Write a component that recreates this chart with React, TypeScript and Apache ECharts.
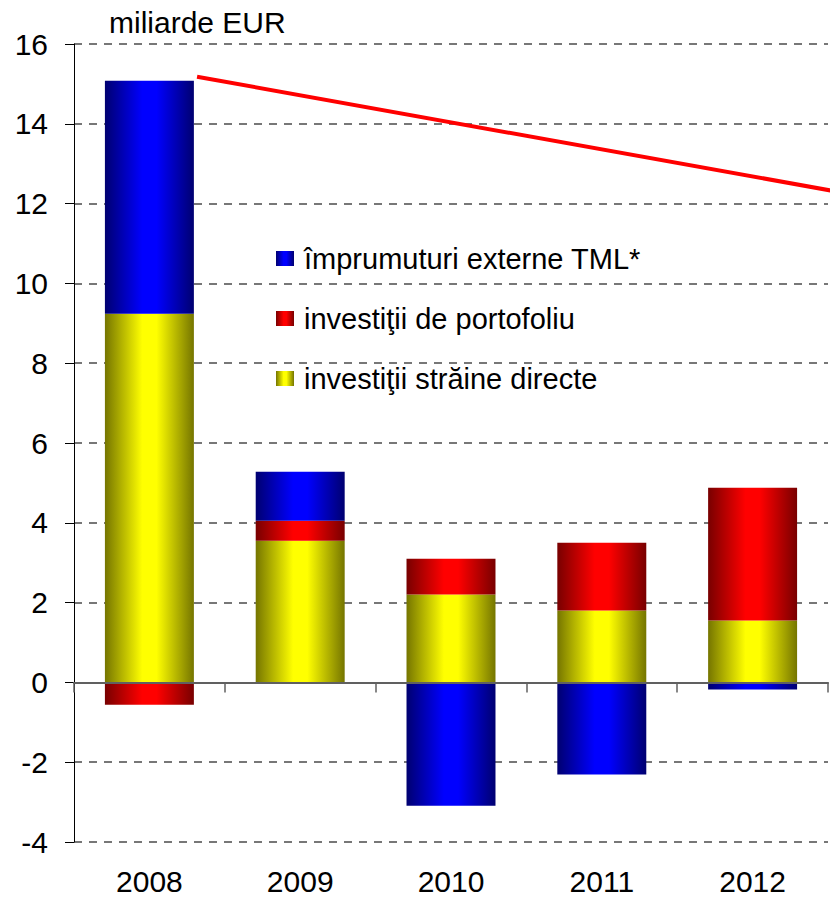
import React, { useEffect, useRef } from "react";
import * as echarts from "echarts";

const years = ["2008", "2009", "2010", "2011", "2012"];
const fdi = [9.24, 3.55, 2.2, 1.8, 1.55];
const portfolio = [-0.56, 0.5, 0.9, 1.7, 3.33];
const loans = [5.84, 1.23, -3.09, -2.31, -0.18];
const trendX = [0.316, 4.56];
const trendY = [15.18, 12.3];
const yMin = -4;
const yMax = 16;
const yStep = 2;
const unitLabel = "miliarde EUR";
const nameLoans = "împrumuturi externe TML*";
const namePortfolio = "investiţii de portofoliu";
const nameFdi = "investiţii străine directe";

const FONT = "'Liberation Sans', Arial, sans-serif";

const grad = (dark: string, bright: string) =>
  new echarts.graphic.LinearGradient(0, 0, 1, 0, [
    { offset: 0, color: dark },
    { offset: 0.42, color: bright },
    { offset: 0.58, color: bright },
    { offset: 1, color: dark },
  ]);

export default function App() {
  const ref = useRef<HTMLDivElement>(null);
  useEffect(() => {
    document.body.style.margin = "0";
    if (!ref.current) return;
    const chart = echarts.init(ref.current, undefined, { renderer: "svg" });
    chart.setOption({
      animation: false,
      backgroundColor: "#ffffff",
      title: {
        text: unitLabel,
        left: 104,
        top: 2,
        textStyle: { fontFamily: FONT, fontSize: 30, fontWeight: "normal", color: "#000" },
      },
      legend: {
        data: [nameLoans, namePortfolio, nameFdi],
        orient: "vertical",
        left: 271,
        top: 239,
        itemWidth: 18,
        itemHeight: 15,
        itemGap: 31,
        icon: "rect",
        textStyle: { fontFamily: FONT, fontSize: 29, color: "#000", padding: [0, 0, 0, 5] },
      },
      grid: { left: 74, right: 9, top: 44, bottom: 65, containLabel: false },
      xAxis: [
        {
          type: "category",
          data: years,
          position: "bottom",
          axisLine: { show: false, onZero: false },
          axisTick: { show: false },
          axisLabel: { fontFamily: FONT, fontSize: 30, color: "#000", margin: 24 },
          splitLine: { show: false },
        },
        {
          type: "category",
          data: years,
          position: "bottom",
          z: 10,
          axisLine: { show: true, onZero: true, lineStyle: { color: "#606060", width: 2 } },
          axisTick: { show: true, length: 10, lineStyle: { color: "#606060", width: 1.5 } },
          axisLabel: { show: false },
          splitLine: { show: false },
        },
        {
          type: "value",
          min: -0.5,
          max: 4.5,
          show: false,
          splitLine: { show: false },
        },
      ],
      yAxis: {
        type: "value",
        min: yMin,
        max: yMax,
        interval: yStep,
        axisLine: { show: true, onZero: false, lineStyle: { color: "#000", width: 1 } },
        axisTick: { show: true, length: 9, lineStyle: { color: "#000", width: 1 } },
        axisLabel: { fontFamily: FONT, fontSize: 30, color: "#000", margin: 26 },
        splitLine: { show: true, lineStyle: { color: "#777", width: 2, type: [8, 7] } },
      },
      series: [
        {
          name: nameFdi,
          type: "bar",
          stack: "total",
          xAxisIndex: 0,
          barWidth: "59%",
          data: fdi,
          itemStyle: { color: grad("#757500", "#ffff00") },
        },
        {
          name: namePortfolio,
          type: "bar",
          stack: "total",
          xAxisIndex: 0,
          barWidth: "59%",
          data: portfolio,
          itemStyle: { color: grad("#780000", "#ff0000") },
        },
        {
          name: nameLoans,
          type: "bar",
          stack: "total",
          xAxisIndex: 0,
          barWidth: "59%",
          data: loans,
          itemStyle: { color: grad("#000070", "#0000ff") },
        },
        {
          name: "trend",
          type: "line",
          xAxisIndex: 2,
          yAxisIndex: 0,
          clip: false,
          symbol: "none",
          z: 5,
          lineStyle: { color: "#ff0000", width: 4 },
          data: trendX.map((x, i) => [x, trendY[i]]),
        },
      ],
    });
    return () => chart.dispose();
  }, []);
  return <div ref={ref} style={{ width: 837, height: 907 }} />;
}
